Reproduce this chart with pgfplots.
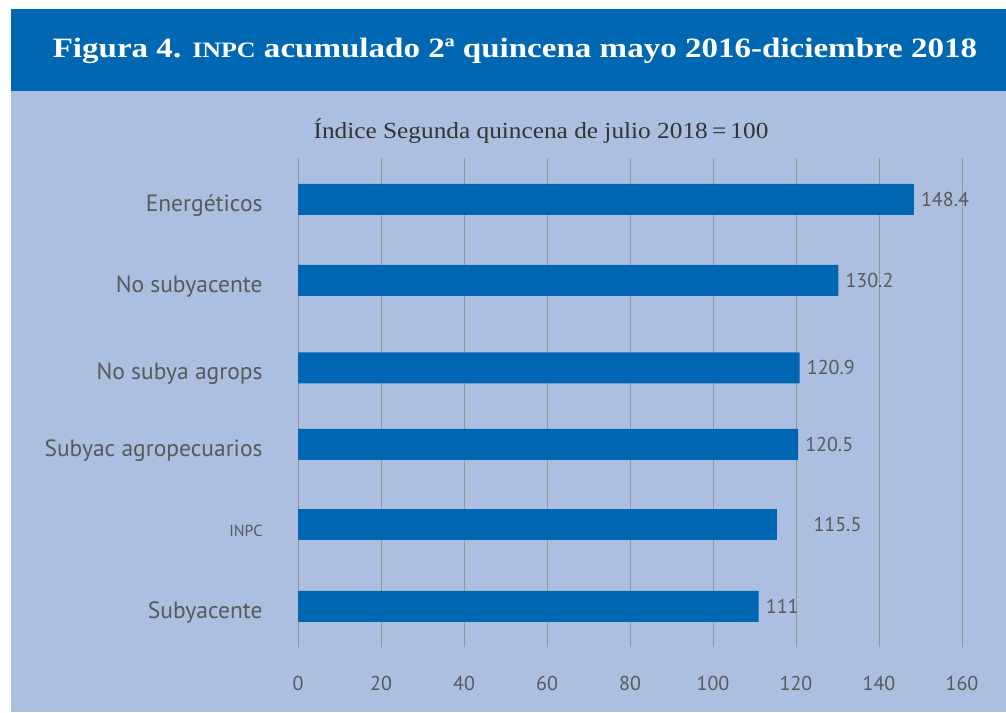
\documentclass[border=0pt]{standalone}
\usepackage{fontspec}
\setmainfont{Liberation Serif}
\setsansfont{PT Sans}
\usepackage{pgfplots}
\usepackage{pgfplotstable}
\pgfplotsset{compat=1.18}
\definecolor{banner}{RGB}{0,103,178}
\definecolor{bgblue}{RGB}{172,191,225}
\definecolor{barblue}{RGB}{0,102,178}
\definecolor{txtgray}{RGB}{89,89,89}
\definecolor{gridgray}{RGB}{150,150,150}

% y = bar centre position (pixels from the bottom), val = index value
\pgfplotstableread{
y val
105.5 111
267.5 120.5
344 120.9
431.5 130.2
512.5 148.4
}\mainbars
\pgfplotstableread{
y val
187.5 115.5
}\inpcbar

\begin{document}
\begin{tikzpicture}
\path[use as bounding box] (0pt,0pt) rectangle (1006pt,712pt);
\fill[white] (0pt,0pt) rectangle (1006pt,712pt);
\fill[bgblue] (11pt,0pt) rectangle (1006pt,622pt);
\fill[banner] (11pt,621pt) rectangle (1006pt,703pt);
\node[white, inner sep=0pt] at (515pt,661pt)
  {\scalebox{1.18}[1]{\fontsize{28}{30}\selectfont\bfseries Figura 4. {\fontsize{22}{24}\selectfont INPC} acumulado 2ª quincena mayo 2016-diciembre 2018}};
\node[text=black!80, inner sep=0pt] at (541pt,581pt)
  {\scalebox{1.1}[1]{\fontsize{23}{26}\selectfont Índice Segunda quincena de julio 2018\,=\,100}};
\begin{axis}[
    at={(298pt,65pt)}, anchor=south west,
    scale only axis, width=664pt, height=489pt,
    xmin=0, xmax=160, ymin=65, ymax=554,
    xbar, bar width=31, bar shift=0pt,
    axis line style={draw=none},
    tick style={draw=none},
    xtick={0,20,...,160},
    xmajorgrids=true,
    grid style={gridgray, line width=1pt},
    ytick={105.5,187.5,267.5,344,431.5,512.5},
    yticklabels={Subyacente,{\fontsize{16}{18}\selectfont INPC},Subyac agropecuarios,No subya agrops,No subyacente,Energéticos},
    yticklabel style={font=\sffamily\fontsize{23.5}{27}\selectfont, text=txtgray, inner sep=0pt, xshift=-31pt, yshift=-6pt},
    xticklabel style={font=\sffamily\fontsize{20}{24}\selectfont, text=txtgray, inner sep=0pt, yshift=-29pt},
    /pgf/number format/assume math mode=true,
    nodes near coords,
    every node near coord/.append style={font=\sffamily\fontsize{20}{24}\selectfont, text=txtgray, inner sep=0pt, anchor=west},
  ]
  \addplot[fill=barblue, draw=none, every node near coord/.append style={xshift=7pt}]
    table[x=val, y=y] {\mainbars};
  \addplot[fill=barblue, draw=none, every node near coord/.append style={xshift=36pt}]
    table[x=val, y=y] {\inpcbar};
\end{axis}
\end{tikzpicture}
\end{document}
